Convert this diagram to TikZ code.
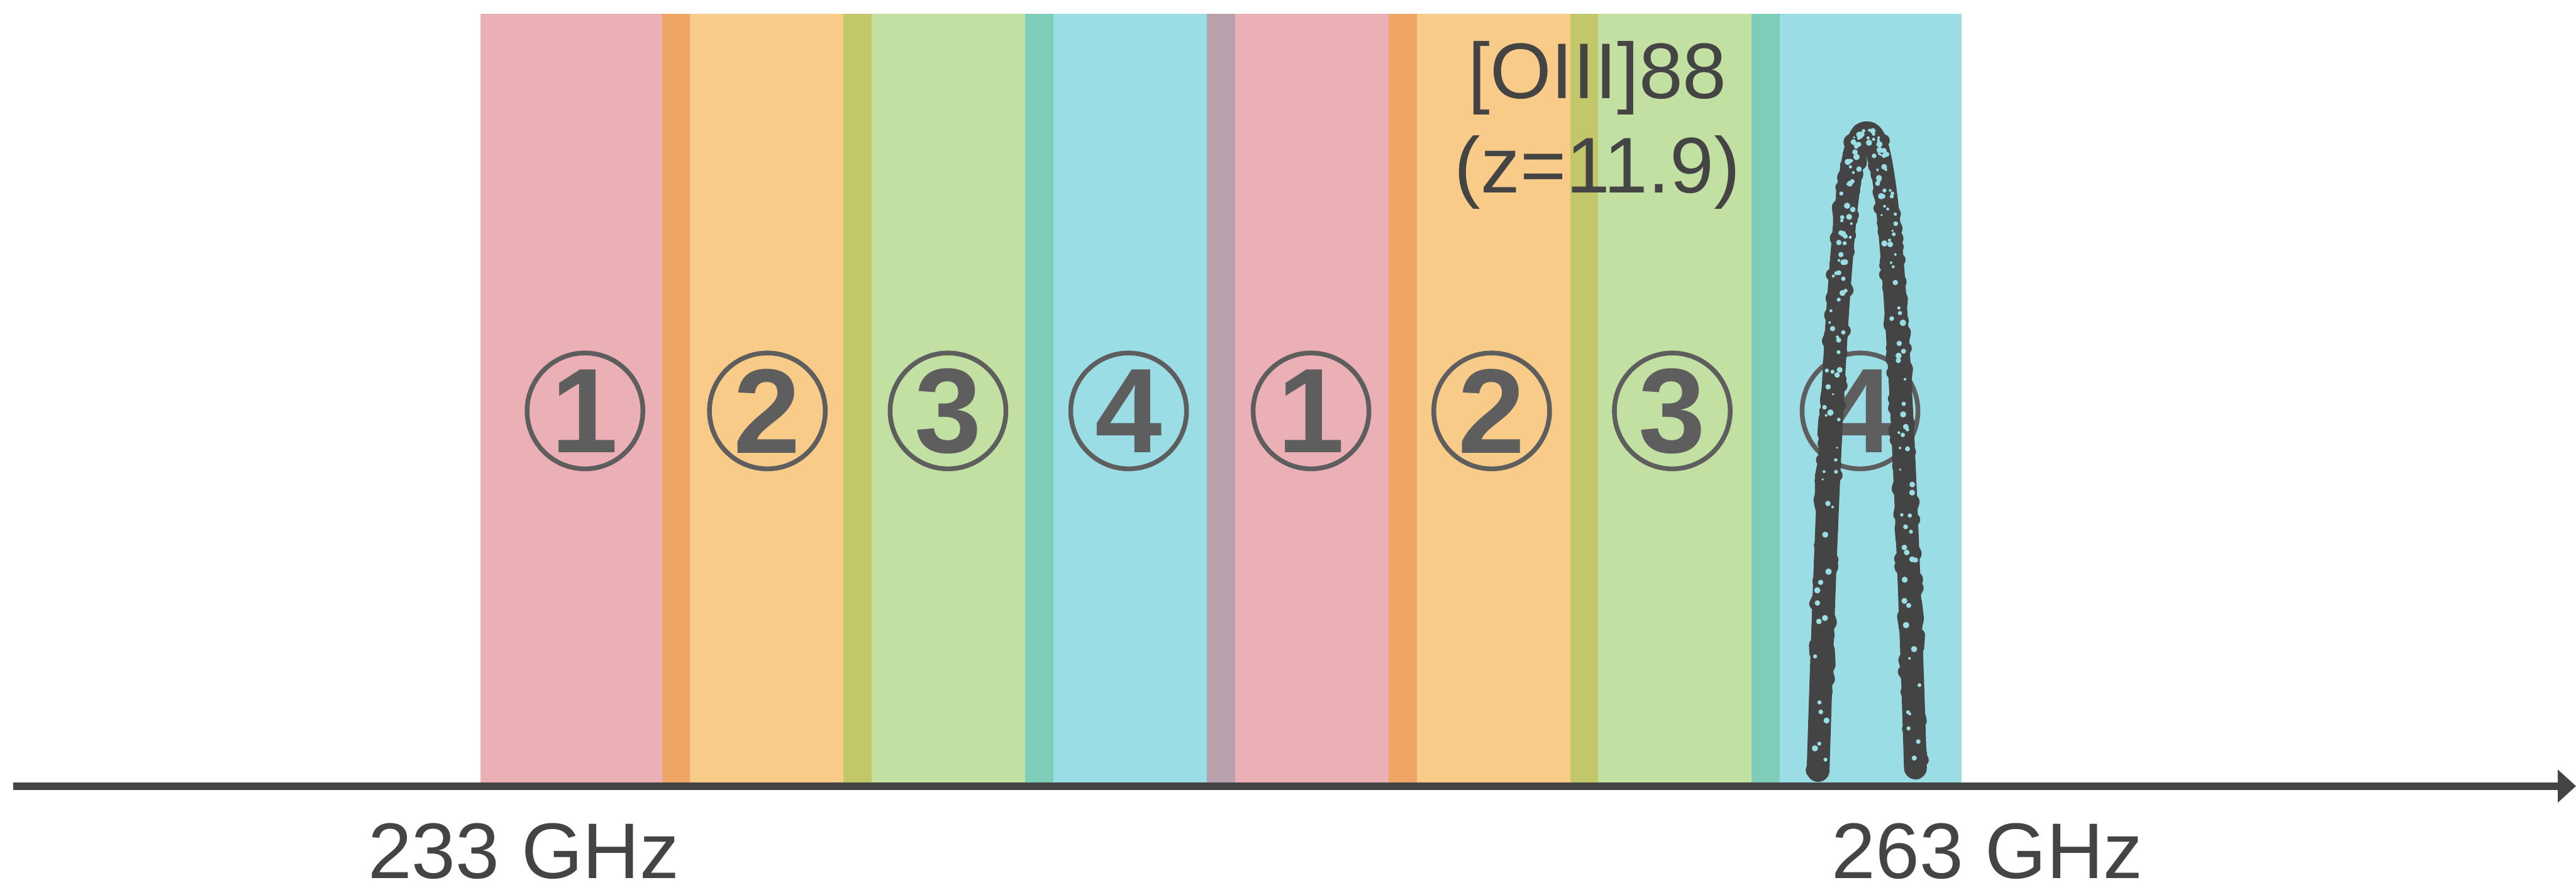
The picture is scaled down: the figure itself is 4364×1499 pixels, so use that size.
\documentclass[tikz,border=0pt]{standalone}
\usepackage{fontspec}
\setmainfont{Liberation Sans}
\usetikzlibrary{arrows.meta}
\definecolor{pinkB}{HTML}{EBB0B5}
\definecolor{orangeB}{HTML}{F9CB89}
\definecolor{greenB}{HTML}{C3E0A3}
\definecolor{cyanB}{HTML}{9BDDE5}
\definecolor{poOv}{HTML}{EEA566}
\definecolor{ogOv}{HTML}{C2C76A}
\definecolor{gcOv}{HTML}{7ECDB8}
\definecolor{cpOv}{HTML}{B9A1AC}
\definecolor{ink}{HTML}{444444}
\definecolor{numink}{HTML}{5E5E5E}
\begin{document}
\begin{tikzpicture}[x=0.01cm,y=-0.01cm,
  numcirc/.style={circle, draw=numink, line width=2.28pt, minimum size=55.8pt, inner sep=0pt, text=numink, font=\fontsize{58}{58}\selectfont\bfseries},
  lbl/.style={text=ink, font=\fontsize{38}{38}\selectfont, anchor=base, inner sep=0pt},
  chalk/.style={draw=ink, line cap=round, line join=round}]
\useasboundingbox (0,0) rectangle (4364,1499);
% bands
\foreach \i/\c in {0/pinkB,1/orangeB,2/greenB,3/cyanB,4/pinkB,5/orangeB,6/greenB,7/cyanB} {
  \fill[\c] ({813.7+307.7*\i},23) rectangle ({813.7+307.7*\i+355.5},1328);
}
% overlaps
\foreach \i/\c in {1/poOv,2/ogOv,3/gcOv,4/cpOv,5/poOv,6/ogOv,7/gcOv} {
  \fill[\c] ({813.7+307.7*\i},23) rectangle ({813.7+307.7*(\i-1)+355.5},1328);
}
% circled numbers
\foreach \n/\x [count=\k] in {1/991,2/1300,3/1606,4/1912,1/2221,2/2527,3/2833,4/3151} {
  \node[numcirc] (n\k) at (\x,696) {\n};
}
% labels
\node[lbl] (oiii) at (2706,167) {[OIII]88};
\node[lbl] (zred) at (2706,327) {(z=11.9)};
\node[lbl] (f1) at (887,1488) {233 GHz};
\node[lbl] (f2) at (3367,1488) {263 GHz};
% axis
\coordinate (axL) at (22,1331.5);
\coordinate (axR) at (4364,1331.5);
\draw[ink, line width=3.7pt, -{Triangle[length=8.8pt,width=15.4pt]}] (axL) -- (axR);
% spectral line (chalky stroke)
\pgfmathsetseed{7}
\draw[chalk, line width=11pt] plot[domain=-1:1, samples=200, smooth] ({3162.5+82.5*sign(\x)*pow(abs(\x),0.808)}, {225+1080*\x*\x});
\draw[chalk, line width=8pt] plot[domain=-1:1, samples=160] ({3162.5+82.5*sign(\x)*pow(abs(\x),0.808)+20*(rnd-0.5)}, {225+1080*\x*\x+8*(rnd-0.5)});
\draw[chalk, line width=6pt] plot[domain=-1:1, samples=330] ({3162.5+82.5*sign(\x)*pow(abs(\x),0.808)+28*(rnd-0.5)}, {225+1080*\x*\x+6*(rnd-0.5)});
\foreach \k in {1,...,170} {
  \pgfmathsetmacro{\s}{2*rnd-1}
  \pgfmathsetmacro{\px}{3162.5+82.5*sign(\s)*pow(abs(\s)+0.0001,0.808)+26*(rnd-0.5)}
  \pgfmathsetmacro{\py}{225+1080*\s*\s+10*(rnd-0.5)}
  \pgfmathsetmacro{\pr}{2+3.5*rnd}
  \fill[cyanB] (\px,\py) circle[radius=\pr];
}
\end{tikzpicture}
\end{document}
